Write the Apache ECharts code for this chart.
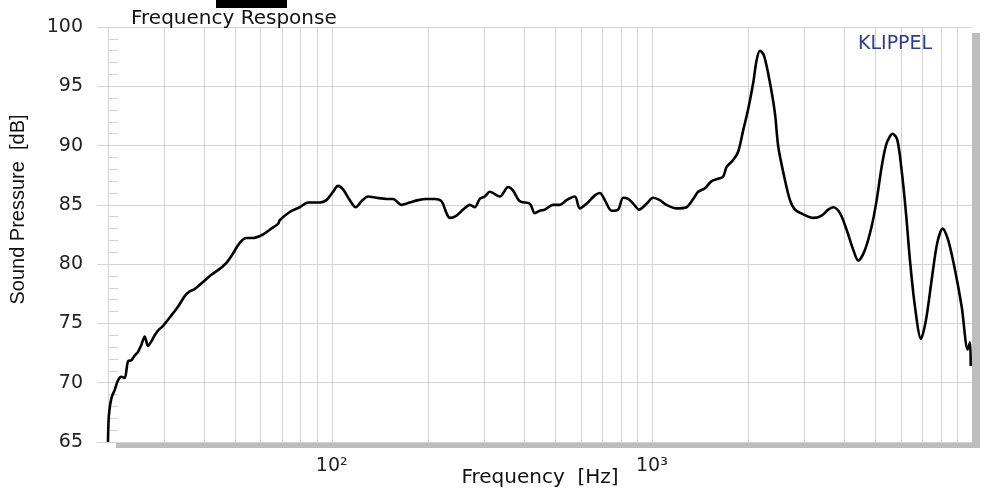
<!DOCTYPE html>
<html>
<head>
<meta charset="utf-8">
<script src="https://cdn.jsdelivr.net/npm/echarts@6/dist/echarts.min.js"></script>
<style>
html,body{margin:0;padding:0;background:#fff;}
#chart{width:984px;height:488px;}
</style>
</head>
<body>
<div id="chart"></div>
<script>
// Frequency in Hz
var freq = [20.0, 20.05, 20.15, 20.5, 20.99, 21.49, 22.02, 22.55, 23.09, 23.67, 24.24, 24.82, 25.43, 26.04, 26.67, 27.33, 27.99, 28.66, 29.71, 31.18, 33.08, 34.72, 35.99, 37.32, 39.61, 42.08, 44.67, 46.88, 49.16, 51.58, 54.13, 56.77, 61.0, 64.0, 67.95, 68.78, 73.9, 79.43, 84.33, 91.73, 96.25, 100.9, 104.6, 108.5, 113.8, 118.9, 123.8, 129.9, 137.9, 148.2, 155.4, 165.1, 175.3, 186.1, 197.6, 209.9, 220.2, 228.3, 233.8, 245.3, 257.2, 269.9, 279.8, 290.0, 300.7, 311.7, 335.0, 355.6, 368.6, 386.7, 415.7, 430.9, 446.7, 463.0, 491.6, 515.8, 541.3, 574.7, 595.7, 625.1, 663.5, 687.8, 713.0, 748.2, 784.6, 813.3, 843.1, 874.3, 912.9, 962.5, 1009, 1059, 1111, 1195, 1284, 1331, 1362, 1395, 1464, 1537, 1612, 1671, 1712, 1796, 1861, 1929, 2000, 2073, 2124, 2175, 2239, 2338, 2424, 2482, 2604, 2700, 2799, 2971, 3193, 3391, 3556, 3687, 3868, 4058, 4257, 4413, 4629, 4860, 5037, 5221, 5413, 5652, 5842, 6029, 6220, 6402, 6636, 6928, 7183, 7484, 7790, 8098, 8431, 8849, 9286, 9696, 9857, 9906];
// Sound pressure in dB
var spl = [65.0, 66.3, 67.4, 68.7, 69.4, 70.2, 70.5, 70.4, 71.8, 71.9, 72.3, 72.6, 73.2, 73.9, 73.1, 73.5, 74.0, 74.4, 74.8, 75.5, 76.4, 77.3, 77.7, 77.9, 78.5, 79.1, 79.6, 80.1, 80.9, 81.8, 82.2, 82.2, 82.5, 82.9, 83.4, 83.7, 84.4, 84.8, 85.2, 85.2, 85.4, 86.1, 86.6, 86.3, 85.4, 84.8, 85.3, 85.7, 85.6, 85.5, 85.5, 85.0, 85.2, 85.4, 85.5, 85.5, 85.3, 84.3, 83.9, 84.1, 84.6, 85.0, 84.8, 85.5, 85.7, 86.1, 85.7, 86.5, 86.2, 85.3, 85.1, 84.3, 84.5, 84.6, 85.0, 85.0, 85.4, 85.7, 84.7, 85.1, 85.8, 86.0, 85.4, 84.5, 84.6, 85.6, 85.5, 85.1, 84.6, 85.1, 85.6, 85.4, 85.0, 84.7, 84.8, 85.3, 85.7, 86.1, 86.4, 87.0, 87.2, 87.4, 88.2, 88.8, 89.5, 91.3, 93.1, 95.3, 97.2, 98.0, 97.6, 95.3, 92.7, 89.9, 87.1, 85.4, 84.6, 84.2, 83.9, 84.1, 84.6, 84.8, 84.3, 82.9, 81.2, 80.3, 81.2, 83.2, 85.4, 88.2, 90.2, 91.0, 90.5, 87.9, 84.3, 80.3, 76.4, 73.7, 75.3, 78.7, 81.8, 83.0, 82.0, 79.5, 76.4, 72.8, 73.4, 71.4];
// Vertical grid lines (Hz)
var gridFreqs = [30, 40, 50, 60, 70, 80, 90, 100, 200, 300, 400, 500, 600, 700, 800, 900, 1000, 2000, 3000, 4000, 5000, 6000, 7000, 8000, 9000];
// Tick labels
var xTickLabels = {100: '10\u00B2', 1000: '10\u00B3'};
var yTicks = [65, 70, 75, 80, 85, 90, 95, 100];

var pts = freq.map(function (f, i) { return [f, spl[i]]; });
var gridColor = '#d3d3d3';
var chart = echarts.init(document.getElementById('chart'), null, {renderer: 'canvas'});
chart.setOption({
  animation: false,
  backgroundColor: '#ffffff',
  title: [
    {text: 'Frequency Response', left: 131, top: 9, padding: 0,
     textStyle: {fontFamily: 'DejaVu Sans', fontSize: 20, fontWeight: 'normal', color: '#111'}},
    {text: 'KLIPPEL', left: 858, top: 35, padding: 0,
     textStyle: {fontFamily: 'DejaVu Sans', fontSize: 19, fontWeight: 'normal', color: '#2b3d8c'}}
  ],
  graphic: [
    {type: 'rect', shape: {x: 216, y: 0, width: 71, height: 8}, style: {fill: '#000'}}
  ],
  grid: {
    left: 108, right: 12, top: 27, bottom: 46,
    outerBoundsMode: 'none', containLabel: false,
    show: true, backgroundColor: '#fff', borderWidth: 0,
    shadowColor: '#bdbdbd', shadowBlur: 0, shadowOffsetX: 8, shadowOffsetY: 6
  },
  xAxis: {
    type: 'log', logBase: 10, min: 20, max: 10000,
    name: 'Frequency  [Hz]', nameLocation: 'middle', nameGap: 26, nameMoveOverlap: false,
    nameTextStyle: {fontFamily: 'DejaVu Sans', fontSize: 20, color: '#111'},
    axisLine: {show: true, lineStyle: {color: gridColor, width: 1}},
    axisTick: {show: false},
    splitLine: {show: false},
    axisLabel: {
      margin: 15, fontFamily: 'DejaVu Sans', fontSize: 19, color: '#222',
      showMinLabel: false, showMaxLabel: false,
      formatter: function (v) {
        var p = Math.round(Math.log10(v));
        var key = Math.pow(10, p);
        if (Math.abs(v - key) / key < 1e-6 && xTickLabels[key]) return xTickLabels[key];
        return '';
      }
    }
  },
  yAxis: [
    {
      type: 'value', min: yTicks[0], max: yTicks[yTicks.length - 1], interval: 5,
      name: 'Sound Pressure  [dB]', nameLocation: 'middle', nameGap: 80, nameRotate: 90,
      nameMoveOverlap: false,
      nameTextStyle: {fontFamily: 'Liberation Sans', fontSize: 20, color: '#111', padding: [0, 0, 0, 50]},
      axisLine: {show: true, lineStyle: {color: gridColor, width: 1}},
      axisTick: {show: true, length: 11, lineStyle: {color: gridColor}},
      splitLine: {show: true, lineStyle: {color: gridColor, width: 1}},
      axisLabel: {margin: 25, fontFamily: 'DejaVu Sans', fontSize: 19, color: '#222'}
    },
    {
      type: 'value', min: yTicks[0], max: yTicks[yTicks.length - 1], interval: 5,
      position: 'left',
      axisLine: {show: false},
      axisTick: {show: false, inside: true},
      minorTick: {show: true, splitNumber: 5, length: 10, lineStyle: {color: gridColor}},
      splitLine: {show: false},
      axisLabel: {show: false}
    }
  ],
  series: [{
    type: 'line', data: pts, yAxisIndex: 0,
    showSymbol: false, symbol: 'none', smooth: 0.3,
    lineStyle: {color: '#000', width: 2.6},
    silent: true, z: 5,
    markLine: {
      silent: true, symbol: ['none', 'none'], animation: false,
      label: {show: false},
      lineStyle: {color: gridColor, width: 1, type: 'solid'},
      data: gridFreqs.map(function (f) { return {xAxis: f}; })
    }
  }]
});
</script>
</body>
</html>
